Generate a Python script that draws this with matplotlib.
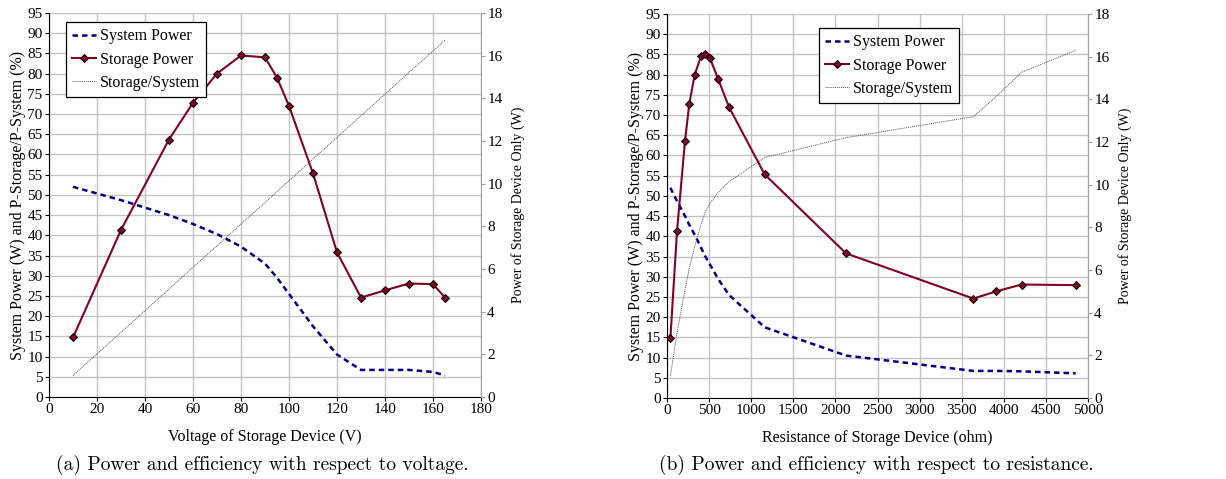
import matplotlib
matplotlib.use("Agg")
import matplotlib.pyplot as plt

# ---------------- data (a): voltage ----------------
voltage = [10, 30, 50, 60, 70, 80, 90, 95, 100, 110, 120, 130, 140, 150, 160, 165]
sys_power_a = [52, 48.7, 45, 42.8, 40.3, 37.2, 33, 29.5, 25.5, 17.5, 10.5, 6.7, 6.7, 6.7, 6.2, 5.3]
storage_power_a = [2.79, 7.83, 12.07, 13.79, 15.16, 16.01, 15.92, 14.97, 13.64, 10.48, 6.78,
                   4.66, 5.0, 5.32, 5.29, 4.66]
ratio_a = [5.3, 16.0, 26.7, 32.1, 37.4, 42.8, 48.1, 50.8, 53.5, 58.9, 64.2, 69.6, 74.9, 80.3, 85.6, 88.3]

# ---------------- data (b): resistance ----------------
resistance = [40, 119, 214, 265, 329, 404, 455, 511, 606, 736, 1160, 2126, 3638, 3911, 4212, 4853]
sys_power_b = [52, 48.7, 45, 42.8, 40.4, 37.2, 35, 33, 29.5, 25.5, 17.5, 10.5, 6.7, 6.7, 6.6, 6.1]
storage_power_b = [2.79, 7.83, 12.07, 13.79, 15.16, 16.01, 16.14, 15.92, 14.97, 13.64, 10.48, 6.78,
                   4.66, 5.0, 5.32, 5.29]
ratio_b = [5.4, 16.1, 26.8, 32.2, 37.5, 43.0, 46.0, 48.2, 50.8, 53.5, 59.5, 64.4, 69.6, 74.6, 80.6, 86.0]

left_ticks = list(range(0, 96, 5))
right_ticks = list(range(0, 19, 2))
xticks_a = list(range(0, 181, 20))
xticks_b = list(range(0, 5001, 500))

labels = ["System Power", "Storage Power", "Storage/System"]
xlabel_a = "Voltage of Storage Device (V)"
xlabel_b = "Resistance of Storage Device (ohm)"
ylabel_left = "System Power (W) and P-Storage/P-System (%)"
ylabel_right = "Power of Storage Device Only (W)"
caption_a = "(a) Power and efficiency with respect to voltage."
caption_b = "(b) Power and efficiency with respect to resistance."

SERIF = "Liberation Serif"
SYS_COLOR = "#000088"
STO_COLOR = "#820024"
RAT_COLOR = "#505050"
GRID = "#c4c4c4"
TICK_FS = 11

W, H = 1226, 479
fig = plt.figure(figsize=(W / 100, H / 100), dpi=100)


def px_axes(l, r, t, b):
    return fig.add_axes([l / W, 1 - b / H, (r - l) / W, (b - t) / H])


def make_panel(ax, x, sysp, stop, ratio, xticks, xmax, xlabel, caption, leg_xy, cap_x):
    ax.set_xlim(0, xmax)
    ax.set_ylim(0, 95)
    ax.set_xticks(xticks)
    ax.set_yticks(left_ticks)
    ax.grid(True, color=GRID, lw=1.0)
    ax.set_axisbelow(True)
    ax.spines["top"].set_visible(False)
    ax.spines["right"].set_visible(False)
    ax.spines["left"].set_color("black")
    ax.spines["bottom"].set_color("black")
    ax.tick_params(direction="out", length=3, width=0.8, labelsize=TICK_FS, pad=1.5)
    for lab in ax.get_xticklabels() + ax.get_yticklabels():
        lab.set_family(SERIF)

    l1, = ax.plot(x, sysp, color=SYS_COLOR, lw=1.8, ls=(0, (2.2, 1.6)))
    l3, = ax.plot(x, ratio, color=RAT_COLOR, lw=0.7, ls=(0, (1, 1)))

    ax2 = ax.twinx()
    ax2.set_ylim(0, 18)
    ax2.set_yticks(right_ticks)
    for s in ("top", "left", "bottom"):
        ax2.spines[s].set_visible(False)
    ax2.spines["right"].set_color("#a0a0a0")
    ax2.tick_params(direction="out", length=3, width=0.8, colors="#a0a0a0",
                    labelcolor="black", labelsize=TICK_FS, pad=1.5)
    for lab in ax2.get_yticklabels():
        lab.set_family(SERIF)
    l2, = ax2.plot(x, stop, color=STO_COLOR, lw=1.5, marker="D", ms=4.5,
                   mfc=STO_COLOR, mec="black", mew=0.7)

    ax.set_xlabel(xlabel, family=SERIF, fontsize=11.5, labelpad=9)
    ax.set_ylabel(ylabel_left, family=SERIF, fontsize=11.5, labelpad=1)
    ax2.set_ylabel(ylabel_right, family=SERIF, fontsize=10, labelpad=6)

    leg = fig.legend([l1, l2, l3], labels, loc="upper left",
                     bbox_to_anchor=(leg_xy[0] / W, 1 - leg_xy[1] / H),
                     borderaxespad=0,
                     prop={"family": SERIF, "size": 11.5}, frameon=True, fancybox=False,
                     edgecolor="black", framealpha=1, handlelength=1.5, handletextpad=0.2,
                     borderpad=0.4, labelspacing=0.45)
    leg.get_frame().set_linewidth(0.9)

    fig.text(cap_x / W, 1 - 465 / H, caption, family="cmr10", fontsize=14,
             ha="center", va="center")
    return ax2


ax_a = px_axes(49, 481, 13, 397)
make_panel(ax_a, voltage, sys_power_a, storage_power_a, ratio_a, xticks_a, 180,
           xlabel_a, caption_a, (66, 22), 262)

ax_b = px_axes(667, 1088, 14, 398)
make_panel(ax_b, resistance, sys_power_b, storage_power_b, ratio_b, xticks_b, 5000,
           xlabel_b, caption_b, (819, 28), 876)

fig.savefig("out.png", dpi=100)
